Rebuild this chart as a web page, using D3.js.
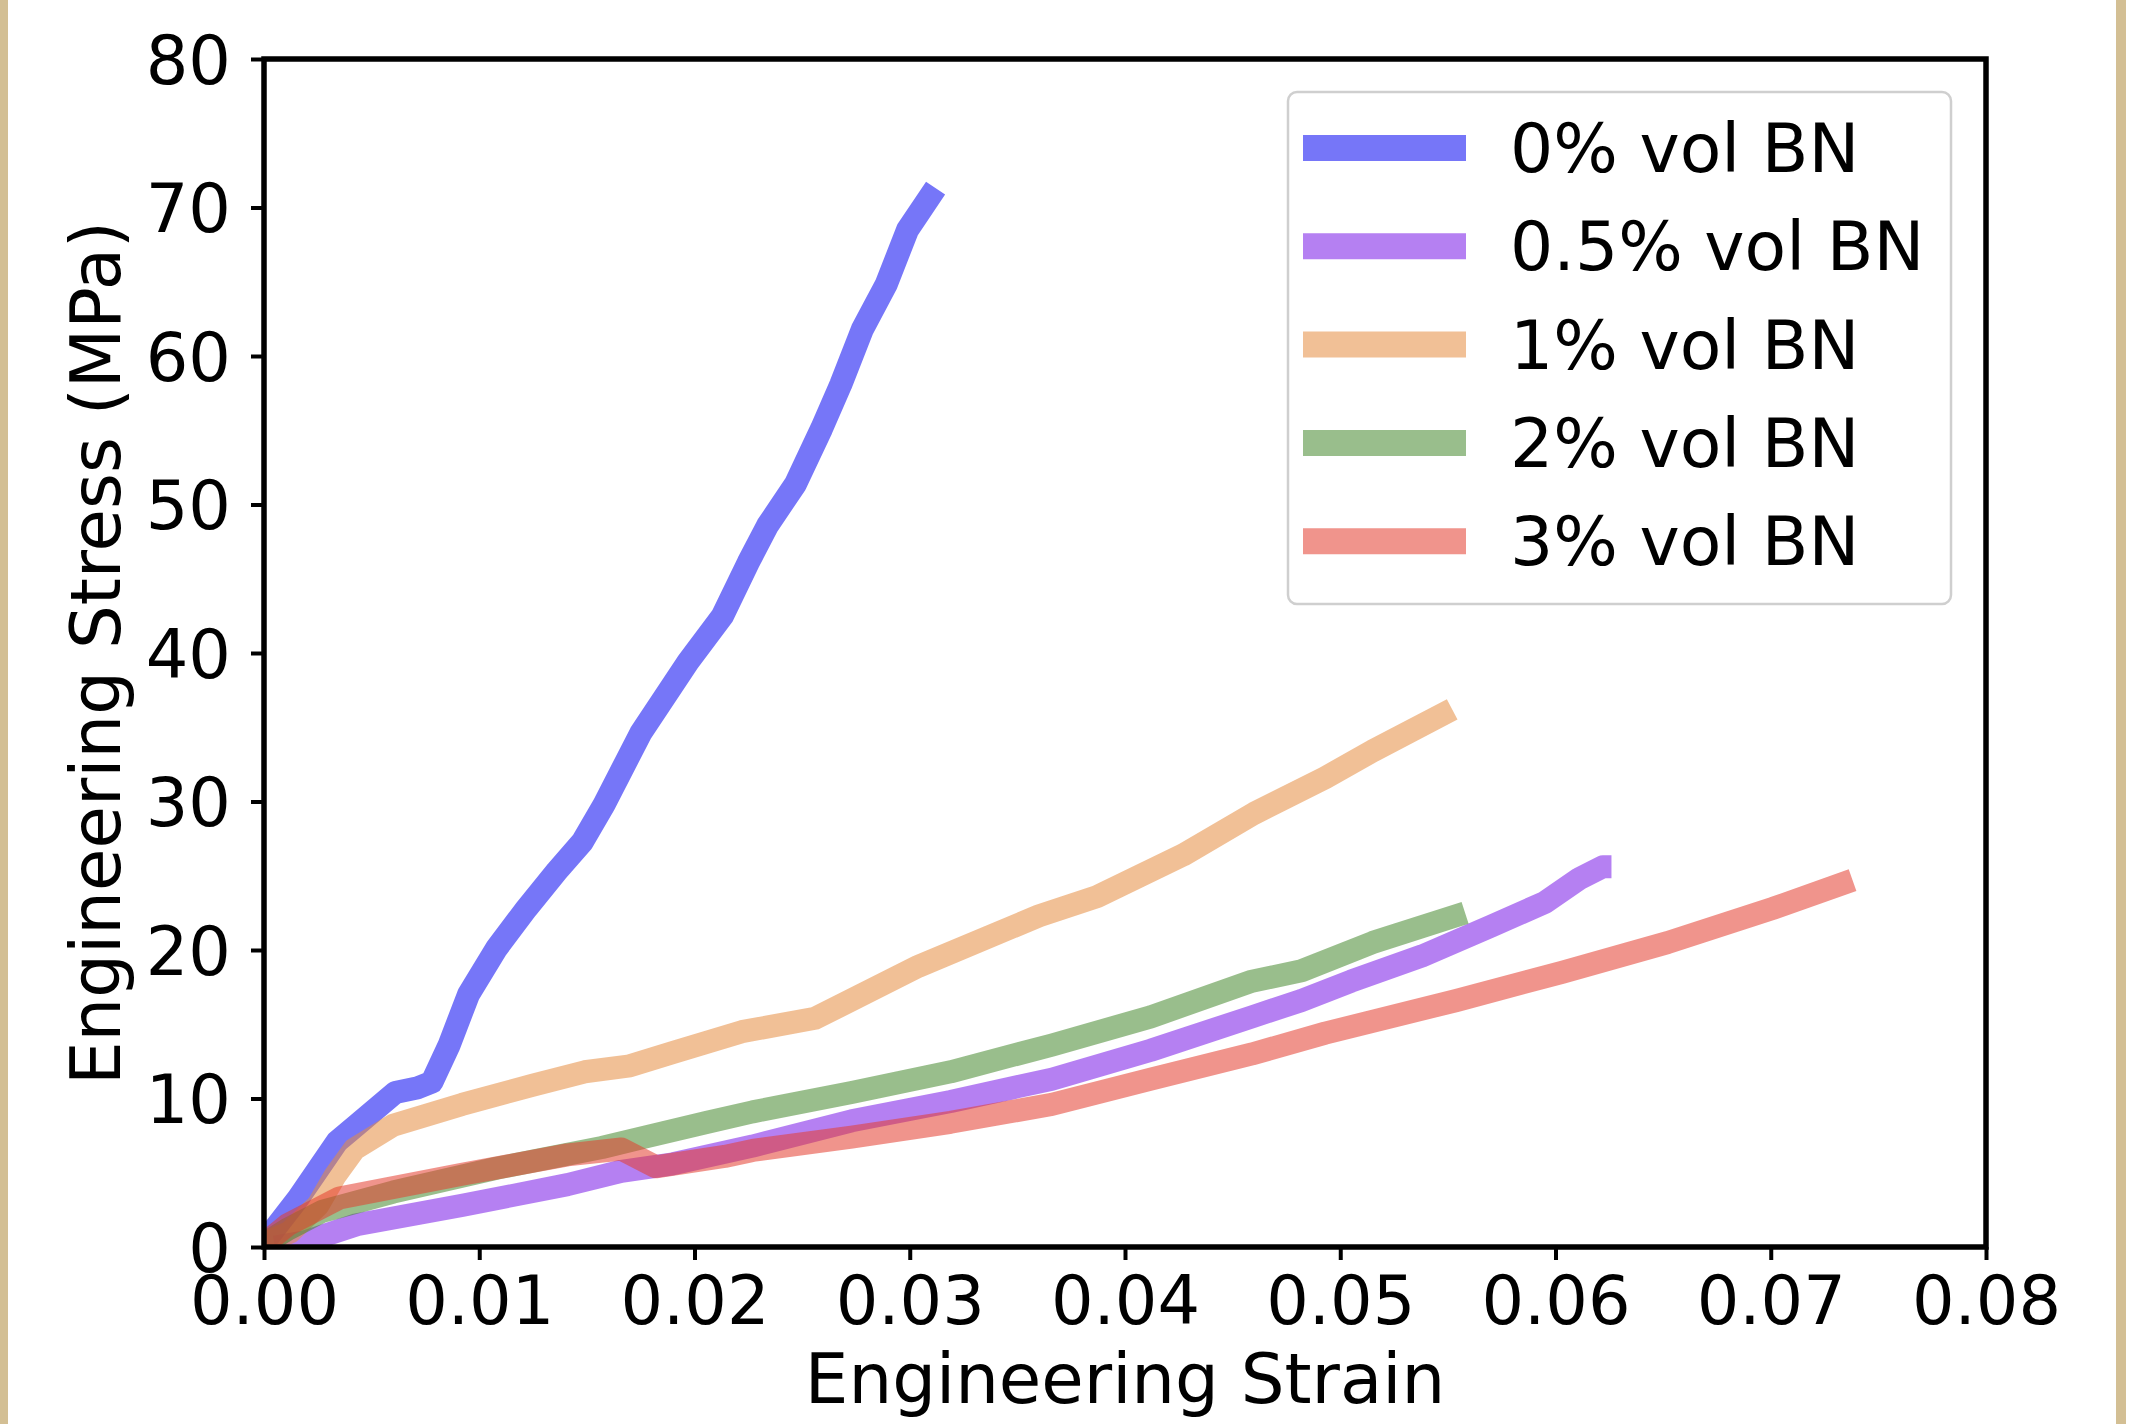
<!DOCTYPE html>
<html>
<head>
<meta charset="utf-8">
<script src="https://cdn.jsdelivr.net/npm/d3@7"></script>
<style>
  html, body { margin:0; padding:0; background:#fff; }
  svg text { font-family: "DejaVu Sans", sans-serif; fill:#000; }
</style>
</head>
<body>
<div id="chart"></div>
<script>
(function(){
"use strict"
//---stress strain curves, BN loading---

// strain / stress pairs
var strain0  = [0, 0.0016, 0.0034, 0.0043, 0.0061, 0.0071, 0.0078, 0.0086, 0.0095, 0.0108, 0.0122, 0.0136, 0.0148, 0.0158, 0.0175, 0.0197, 0.0213, 0.0225, 0.0234, 0.0247, 0.0259, 0.0268, 0.0278, 0.0289, 0.0299, 0.0312],
	stress0  = [0.3, 3.3, 7.1, 8.2, 10.4, 10.7, 11.1, 13.6, 17.0, 20.1, 22.8, 25.3, 27.3, 29.8, 34.6, 39.4, 42.5, 46.1, 48.6, 51.4, 55.1, 58.1, 61.8, 64.8, 68.5, 71.3],

	strain05 = [0.0005, 0.0019, 0.0043, 0.0092, 0.0141, 0.0166, 0.019, 0.0227, 0.0273, 0.0319, 0.0366, 0.0412, 0.0459, 0.0482, 0.0505, 0.0538, 0.057, 0.0595, 0.0611, 0.0622, 0.0626],
	stress05 = [0, 0.35, 1.5, 2.8, 4.2, 5.1, 5.6, 6.8, 8.5, 9.8, 11.3, 13.25, 15.5, 16.6, 17.9, 19.6, 21.6, 23.2, 24.8, 25.6, 25.6],

	strain1  = [0, 0.0012, 0.0025, 0.0033, 0.0042, 0.006, 0.0092, 0.0125, 0.0149, 0.017, 0.019, 0.0222, 0.0256, 0.0304, 0.036, 0.0387, 0.0427, 0.046, 0.0493, 0.0515, 0.0552],
	stress1  = [0.2, 1.0, 2.8, 4.8, 6.6, 8.2, 9.6, 10.9, 11.8, 12.2, 13.1, 14.5, 15.4, 18.9, 22.3, 23.6, 26.4, 29.2, 31.6, 33.4, 36.2],

	strain2  = [0, 0.0011, 0.0027, 0.006, 0.0108, 0.0157, 0.0174, 0.0206, 0.0227, 0.0273, 0.0319, 0.0366, 0.0412, 0.0459, 0.0482, 0.0515, 0.0558],
	stress2  = [0.2, 1.2, 2.4, 3.7, 5.3, 6.7, 7.3, 8.4, 9.1, 10.4, 11.8, 13.6, 15.5, 17.9, 18.6, 20.5, 22.5],

	strain3  = [0, 0.0011, 0.0035, 0.0092, 0.0141, 0.0166, 0.0182, 0.0214, 0.0227, 0.0273, 0.0319, 0.0366, 0.0412, 0.0459, 0.0493, 0.0554, 0.0603, 0.0652, 0.0701, 0.0738],
	stress3  = [0.2, 1.5, 3.3, 4.9, 6.2, 6.6, 5.4, 6.1, 6.5, 7.4, 8.4, 9.6, 11.3, 13.0, 14.4, 16.6, 18.5, 20.5, 22.8, 24.7];

var labels = ["0% vol BN", "0.5% vol BN", "1% vol BN", "2% vol BN", "3% vol BN"],
	colors = ["#0606f2", "#7818e7", "#e68c40", "#46892e", "#e43c2e"],
	xTicks = [0, 0.01, 0.02, 0.03, 0.04, 0.05, 0.06, 0.07, 0.08],
	yTicks = [0, 10, 20, 30, 40, 50, 60, 70, 80];

var series = [
	d3.zip(strain0, stress0),
	d3.zip(strain05, stress05),
	d3.zip(strain1, stress1),
	d3.zip(strain2, stress2),
	d3.zip(strain3, stress3)
];

var W = 2131, H = 1424,
	margin = {top:59, right:145, bottom:177, left:264},
	width  = W - margin.left - margin.right,
	height = H - margin.top - margin.bottom,
	alpha = 0.55,
	lw = 23;

var svg = d3.select('#chart').append('svg')
	.attr('width', W)
	.attr('height', H)
	.style('display', 'block');

svg.append('rect').attr('width', W).attr('height', H).style('fill', '#fff');
// beige page edges
svg.append('rect').attr('x', 0).attr('y', 0).attr('width', 8).attr('height', H).style('fill', '#d3bf94');
svg.append('rect').attr('x', 2116).attr('y', 0).attr('width', 10).attr('height', H).style('fill', '#d3bf94');

var x = d3.scaleLinear().domain([0, 0.08]).range([0, width]),
	y = d3.scaleLinear().domain([0, 80]).range([height, 0]);

var g = svg.append('g').attr('transform', 'translate(' + margin.left + ',' + margin.top + ')');

g.append('defs').append('clipPath').attr('id', 'clip')
	.append('rect').attr('width', width).attr('height', height);

var line = d3.line()
	.x(function(d){ return x(d[0]); })
	.y(function(d){ return y(d[1]); });

g.append('g').attr('clip-path', 'url(#clip)')
	.selectAll('path')
	.data(series)
	.enter()
		.append('path')
			.attr('d', line)
			.style('fill', 'none')
			.style('stroke', function(d, i){ return colors[i]; })
			.style('stroke-opacity', alpha)
			.style('stroke-width', lw)
			.style('stroke-linejoin', 'round')
			.style('stroke-linecap', 'butt');

// axes
var xAxis = g.append('g').attr('transform', 'translate(0,' + height + ')')
	.call(d3.axisBottom(x).tickValues(xTicks).tickFormat(d3.format('.2f')).tickSize(13).tickSizeOuter(0).tickPadding(16));
var yAxis = g.append('g')
	.call(d3.axisLeft(y).tickValues(yTicks).tickFormat(d3.format('d')).tickSize(13).tickSizeOuter(0).tickPadding(20));

[xAxis, yAxis].forEach(function(a){
	a.select('.domain').remove();
	a.selectAll('.tick line').style('stroke', '#000').style('stroke-width', 4);
	a.selectAll('.tick text').style('font-size', '67px').style('font-family', '"DejaVu Sans", sans-serif');
});
yAxis.selectAll('.tick text').attr('dy', '0.36em');

// frame
g.append('rect')
	.attr('width', width).attr('height', height)
	.style('fill', 'none').style('stroke', '#000').style('stroke-width', 5.5);

// axis titles
g.append('text')
	.attr('x', width / 2).attr('y', height + 156)
	.attr('text-anchor', 'middle')
	.style('font-size', '69px')
	.text('Engineering Strain');

g.append('text')
	.attr('transform', 'translate(' + (-144) + ',' + (height / 2) + ') rotate(-90)')
	.attr('text-anchor', 'middle')
	.style('font-size', '69px')
	.text('Engineering Stress (MPa)');

// legend
var leg = g.append('g').attr('transform', 'translate(' + (1288 - margin.left) + ',' + (92 - margin.top) + ')');
leg.append('rect')
	.attr('width', 663).attr('height', 512)
	.attr('rx', 9).attr('ry', 9)
	.style('fill', '#fff').style('fill-opacity', 0.8)
	.style('stroke', '#cfcfcf').style('stroke-width', 2.5);

var items = leg.selectAll('g.item')
	.data(labels)
	.enter()
		.append('g')
			.attr('class', 'item')
			.attr('transform', function(d, i){ return 'translate(0,' + (56 + i * 98.3) + ')'; });

items.append('line')
	.attr('x1', 15).attr('x2', 178)
	.attr('y1', 0).attr('y2', 0)
	.style('stroke', function(d, i){ return colors[i]; })
	.style('stroke-opacity', alpha)
	.style('stroke-width', 26);

items.append('text')
	.attr('x', 222).attr('y', 24)
	.style('font-size', '68px')
	.text(function(d){ return d; });

})();
</script>
</body>
</html>
